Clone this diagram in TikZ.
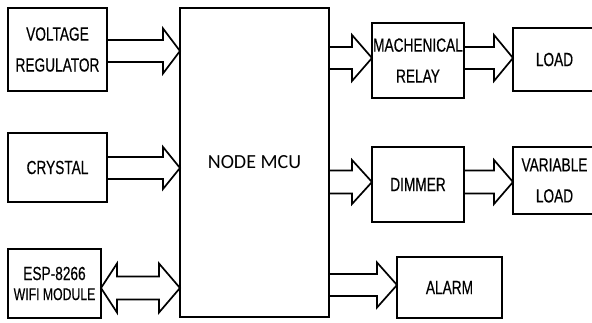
\documentclass[tikz,border=0pt]{standalone}
\usepackage{fontspec}
\usetikzlibrary{calc}
\newfontfamily\narrowfont{Liberation Sans}[FakeStretch=0.72,FakeBold=0.4]
\newfontfamily\calfont{Carlito}
\newcommand\blockarrow[6]{% from, to, yc, shaft half, head half, head length
  \draw[arr] ($(#1.east |- 0,#3)+(0,-#4)$)
    -- ($(#2.west |- 0,#3)+(-#6,-#4)$)
    -- ($(#2.west |- 0,#3)+(-#6,-#5)$)
    -- (#2.west |- 0,#3)
    -- ($(#2.west |- 0,#3)+(-#6,#5)$)
    -- ($(#2.west |- 0,#3)+(-#6,#4)$)
    -- ($(#1.east |- 0,#3)+(0,#4)$);}
\begin{document}
\begin{tikzpicture}[x=1pt,y=-1pt,
  box/.style={draw, line width=1.8pt, inner sep=0pt, outer sep=0pt, align=center,
    font={\narrowfont\fontsize{19}{31}\selectfont}},
  arr/.style={draw, line width=1.7pt, line join=miter}]
\useasboundingbox (0,0) rectangle (592,323);
\newcommand\boxat[6]{\node[box, minimum width={#4-#2}, minimum height={#5-#3}] (#1) at ({(#2+#4)/2},{(#3+#5)/2}) {#6};}
\boxat{vr}{8}{8}{107}{91}{VOLTAGE\\REGULATOR}
\boxat{cry}{8}{133}{107}{202}{CRYSTAL}
\node[box, minimum width=93, minimum height=69, font={\narrowfont\fontsize{19}{20}\selectfont}] (esp) at (54.5,283.5) {ESP-8266\\{\fontsize{17}{20}\selectfont WIFI MODULE}};
\node[box, minimum width=149, minimum height=309, font={\calfont\fontsize{20}{24}\selectfont}] (mcu) at (254.5,162.5) {\raisebox{-5pt}{NODE MCU}};
\boxat{relay}{372}{23}{464}{98}{MACHENICAL\\RELAY}
\boxat{load}{513}{28}{596}{91}{LOAD}
\boxat{dim}{372}{147}{464}{222}{DIMMER}
\boxat{vload}{513}{147}{596}{214}{VARIABLE\\LOAD}
\boxat{alarm}{397}{257}{502}{318}{ALARM}
\blockarrow{vr}{mcu}{51}{11}{22.5}{17}
\blockarrow{cry}{mcu}{168}{11}{21}{17}
\blockarrow{mcu}{relay}{58}{11}{23}{20}
\blockarrow{relay}{load}{58}{11}{23}{19}
\blockarrow{mcu}{dim}{182}{11.5}{22}{20}
\blockarrow{dim}{vload}{182}{11.5}{22}{19}
\blockarrow{mcu}{alarm}{285}{11}{22.5}{20}
% double arrow ESP <-> MCU
\draw[arr] (esp.east |- 0,288)
  -- ($(esp.east |- 0,288)+(16,-24.5)$)
  -- ($(esp.east |- 0,288)+(16,-11.5)$)
  -- ($(mcu.west |- 0,288)+(-21,-11.5)$)
  -- ($(mcu.west |- 0,288)+(-21,-24.5)$)
  -- (mcu.west |- 0,288)
  -- ($(mcu.west |- 0,288)+(-21,24.5)$)
  -- ($(mcu.west |- 0,288)+(-21,11.5)$)
  -- ($(esp.east |- 0,288)+(16,11.5)$)
  -- ($(esp.east |- 0,288)+(16,24.5)$)
  -- cycle;
\end{tikzpicture}
\end{document}
